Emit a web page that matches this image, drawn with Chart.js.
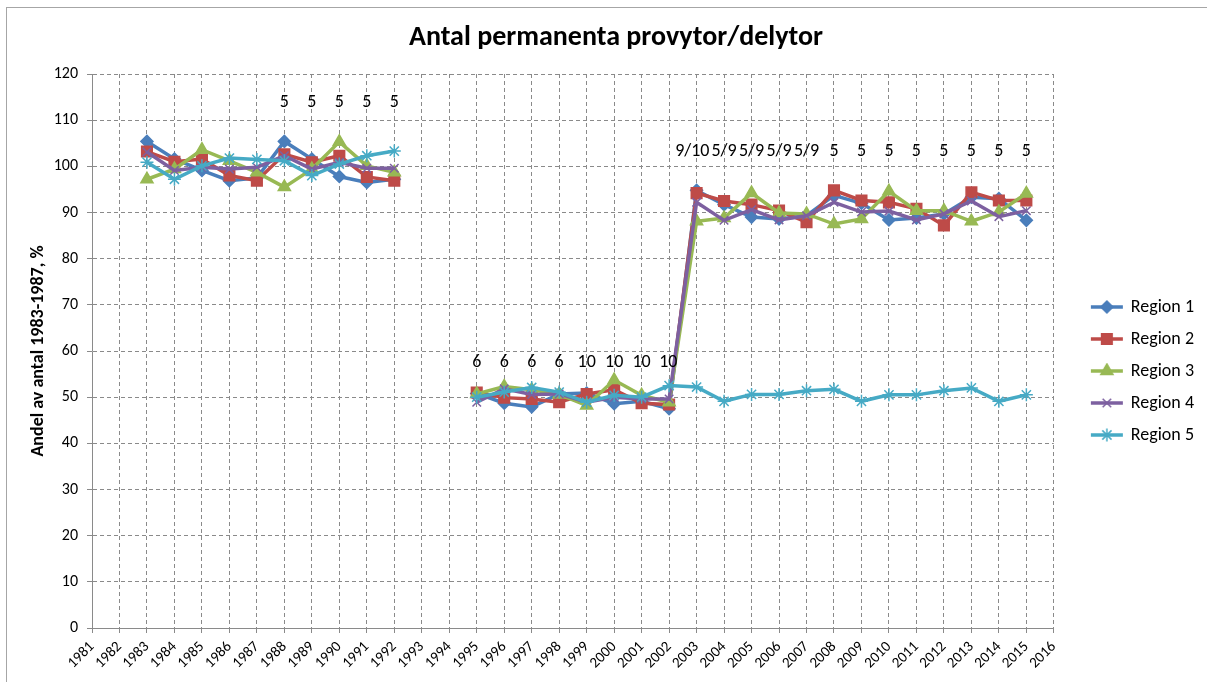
<!DOCTYPE html>
<html>
<head>
<meta charset="utf-8">
<script src="https://cdn.jsdelivr.net/npm/chart.js@4.4.1/dist/chart.umd.min.js"></script>
<style>
  html, body { margin: 0; padding: 0; background: #fff; overflow: hidden; }
  #frame { position: absolute; left: 6px; top: 7px; width: 1400px; height: 900px; border: 1px solid #a6a6a6; }
  #chart { position: absolute; left: 0; top: 0; }
</style>
</head>
<body>
<div id="frame"></div>
<canvas id="chart" width="1207" height="682"></canvas>
<script>
const years = ['1981', '1982', '1983', '1984', '1985', '1986', '1987', '1988', '1989', '1990',
  '1991', '1992', '1993', '1994', '1995', '1996', '1997', '1998', '1999', '2000',
  '2001', '2002', '2003', '2004', '2005', '2006', '2007', '2008', '2009', '2010',
  '2011', '2012', '2013', '2014', '2015', '2016'];

const region1 = [null, null, 105.4, 101.6, 99.1, 96.9, 97.5, 105.4, 101.6, 97.8, 96.5, 97.2, null, null,
  50.8, 48.7, 47.9, 50.7, 50.9, 48.6, 49.1, 47.5,
  94.8, 91.7, 89.0, 88.6, 89.3, 93.7, 92.0, 88.4, 88.8, 89.7, 93.3, 93.0, 88.3, null];
const region2 = [null, null, 103.2, 101.0, 101.6, 98.0, 96.9, 102.6, 100.9, 102.3, 97.7, 96.9, null, null,
  51.0, 49.9, 49.6, 48.9, 50.7, 51.6, 48.7, 48.4,
  94.2, 92.5, 91.7, 90.4, 87.9, 94.8, 92.6, 92.2, 90.8, 87.2, 94.4, 92.6, 92.6, null];
const region3 = [null, null, 97.2, 99.4, 103.6, 101.2, 98.7, 95.5, 99.4, 105.3, 100.1, 98.7, null, null,
  50.7, 52.3, 51.6, 50.6, 48.2, 53.7, 50.4, 48.9,
  88.1, 88.8, 94.2, 89.9, 89.7, 87.5, 88.6, 94.6, 90.4, 90.4, 88.1, 90.1, 94.1, null];
const region4 = [null, null, 103.1, 99.1, 99.8, 99.4, 99.8, 102.3, 99.4, 100.9, 99.6, 99.6, null, null,
  48.9, 51.8, 50.6, 50.7, 48.9, 50.0, 49.6, 49.6,
  92.2, 88.3, 90.6, 88.4, 89.3, 92.2, 90.1, 90.3, 88.4, 89.7, 92.5, 89.1, 90.4, null];
const region5 = [null, null, 100.9, 97.2, 100.1, 101.8, 101.5, 101.2, 98.0, 100.5, 102.3, 103.3, null, null,
  50.0, 51.1, 52.1, 51.1, 48.9, 50.4, 50.0, 52.5,
  52.2, 49.1, 50.6, 50.6, 51.4, 51.7, 49.1, 50.5, 50.5, 51.4, 52.0, 49.1, 50.5, null];

// antal provytor per år, skrivs ovanför kurvorna
const noteLabels = ['', '', '', '', '', '', '', '5', '5', '5', '5', '5', '', '',
  '6', '6', '6', '6', '10', '10', '10', '10',
  '9/10', '5/9', '5/9', '5/9', '5/9', '5', '5', '5', '5', '5', '5', '5', '5', ''];
const noteLevels = [null, null, null, null, null, null, null, 113.9, 113.9, 113.9, 113.9, 113.9, null, null,
  57.6, 57.6, 57.6, 57.6, 57.6, 57.6, 57.6, 57.6,
  103.2, 103.2, 103.2, 103.2, 103.2, 103.2, 103.2, 103.2, 103.2, 103.2, 103.2, 103.2, 103.2, null];

const font = 'Carlito, "Liberation Sans", Arial, sans-serif';
const gridGrey = '#8a8a8a';

const series = [
  { label: 'Region 1', data: region1, color: '#4A7EBB', style: 'rectRot', r: 6 },
  { label: 'Region 2', data: region2, color: '#BE4B48', style: 'rect', r: 7.5 },
  { label: 'Region 3', data: region3, color: '#98B954', style: 'triangle', r: 7 },
  { label: 'Region 4', data: region4, color: '#7D60A0', style: 'crossRot', r: 6 },
  { label: 'Region 5', data: region5, color: '#46AAC5', style: 'star', r: 6.5 }
];

function legendIcon(s) {
  const c = document.createElement('canvas');
  c.width = 60; c.height = 16;
  const g = c.getContext('2d');
  g.strokeStyle = s.color;
  g.lineWidth = 3.5;
  g.beginPath(); g.moveTo(26, 8); g.lineTo(58, 8); g.stroke();
  g.fillStyle = s.color;
  g.lineWidth = 1.5;
  Chart.helpers.drawPoint(g, { pointStyle: s.style, radius: s.r, rotation: 0, borderWidth: 1.5 }, 42, 8);
  return c;
}

const notesPlugin = {
  id: 'notes',
  afterDatasetsDraw(chart) {
    const { ctx, scales: { x, y } } = chart;
    ctx.save();
    ctx.font = '18px ' + font;
    ctx.fillStyle = '#000';
    ctx.textAlign = 'center';
    ctx.textBaseline = 'middle';
    noteLabels.forEach((t, i) => {
      if (!t || noteLevels[i] == null) return;
      let px = x.getPixelForValue(i);
      const next = noteLabels[i + 1];
      if (next) {
        // skjut texten åt vänster om den krockar med nästa
        const room = x.getPixelForValue(i + 1) - px;
        const need = ctx.measureText(t).width / 2 + ctx.measureText(next).width / 2 + 2;
        if (need > room) px -= need - room;
      }
      ctx.fillText(t, px, y.getPixelForValue(noteLevels[i]));
    });
    ctx.restore();
  }
};

const icons = series.map(legendIcon);

new Chart(document.getElementById('chart'), {
  type: 'line',
  data: {
    labels: years,
    datasets: series.map((s, i) => ({
      label: s.label,
      data: s.data,
      borderColor: s.color,
      backgroundColor: s.color,
      pointBackgroundColor: s.color,
      pointBorderColor: s.color,
      pointStyle: s.style,
      pointRadius: s.r,
      pointBorderWidth: 1.5,
      borderWidth: 3.5,
      tension: 0,
      order: series.length - i
    }))
  },
  options: {
    responsive: false,
    animation: false,
    events: [],
    layout: { padding: { left: 28, right: 3, top: 0, bottom: 0 } },
    plugins: {
      title: {
        display: true,
        text: 'Antal permanenta provytor/delytor',
        color: '#000',
        font: { family: font, size: 28, weight: 'bold' },
        padding: { top: 21, bottom: 19.4 }
      },
      legend: {
        position: 'right',
        title: { display: true, text: ' ', font: { size: 10 }, padding: { top: 24, bottom: 24 } },
        labels: {
          usePointStyle: true,
          pointStyleWidth: 54,
          padding: 14,
          color: '#000',
          font: { family: font, size: 18 },
          generateLabels: (chart) => chart.data.datasets.map((ds, i) => ({
            text: ds.label,
            pointStyle: icons[i],
            datasetIndex: i,
            hidden: false,
            lineWidth: 0,
            fillStyle: 'transparent',
            strokeStyle: 'transparent',
            fontColor: '#000'
          }))
        }
      },
      tooltip: { enabled: false }
    },
    scales: {
      x: {
        offset: false,
        grid: { color: gridGrey, lineWidth: 1, tickLength: 5, tickColor: gridGrey, offset: false },
        border: { color: gridGrey, dash: [4, 3] },
        ticks: { autoSkip: false, maxRotation: 45, minRotation: 45, color: '#000', font: { family: font, size: 15 }, padding: 5 },
        afterFit(s) { s.height = 54; }
      },
      y: {
        min: 0,
        max: 120,
        grid: { color: gridGrey, lineWidth: 1, tickLength: 5, tickColor: gridGrey },
        border: { color: gridGrey, dash: [4, 3] },
        ticks: { stepSize: 10, color: '#000', font: { family: font, size: 16 }, padding: 9 },
        title: {
          display: true,
          text: 'Andel av antal 1983-1987, %',
          color: '#000',
          font: { family: font, size: 18, weight: 'bold' },
          padding: 0
        },
        afterFit(s) { s.width = 64; }
      }
    }
  },
  plugins: [notesPlugin]
});
</script>
</body>
</html>
